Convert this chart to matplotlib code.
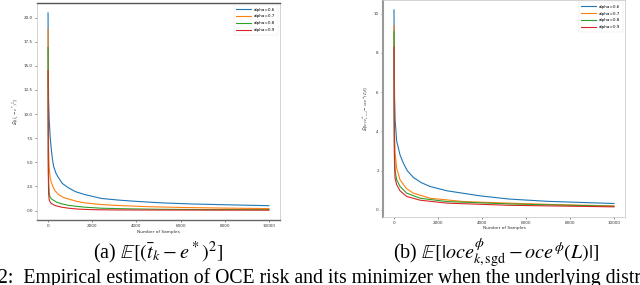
import numpy as np
import matplotlib.pyplot as plt

labels = ['alpha=0.6', 'alpha=0.7', 'alpha=0.8', 'alpha=0.9']
colors = ['#1f77b4', '#ff7f0e', '#2ca02c', '#d62728']

# (a) squared error of the minimizer estimate
a_x_06 = [0, 10, 25, 50, 100, 150, 200, 250, 350, 475, 650, 925, 1250, 1670, 2420, 3200, 3920, 5180, 6500, 8000, 10000]
a_y_06 = [20.5, 15.0, 11.5, 9.5, 7.5, 6.3, 5.3, 4.6, 3.9, 3.4, 2.8, 2.35, 1.95, 1.65, 1.25, 1.08, 0.96, 0.79, 0.68, 0.6, 0.5]
a_x_07 = [0, 10, 25, 50, 100, 180, 300, 475, 700, 925, 1300, 1670, 2400, 3170, 4500, 6000, 8000, 10000]
a_y_07 = [18.8, 10.0, 6.5, 4.5, 3.3, 2.7, 2.1, 1.65, 1.35, 1.2, 0.95, 0.79, 0.62, 0.52, 0.4, 0.32, 0.25, 0.2]
a_x_08 = [0, 10, 25, 50, 75, 150, 250, 400, 625, 900, 1220, 1700, 2420, 3500, 5000, 7000, 10000]
a_y_08 = [16.9, 6.0, 3.2, 1.9, 1.47, 1.2, 1.06, 0.85, 0.69, 0.55, 0.45, 0.34, 0.24, 0.18, 0.13, 0.1, 0.08]
a_x_09 = [0, 10, 25, 50, 75, 150, 320, 600, 925, 1400, 2000, 3000, 5000, 10000]
a_y_09 = [14.5, 4.0, 1.8, 1.15, 0.96, 0.72, 0.52, 0.35, 0.24, 0.14, 0.09, 0.06, 0.05, 0.04]

# (b) absolute error of the OCE risk estimate
b_x_06 = [0, 10, 25, 50, 122, 274, 425, 600, 880, 1250, 1640, 2400, 3920, 5210, 7000, 10000]
b_y_06 = [10.2, 7.5, 5.8, 4.6, 3.5, 2.8, 2.38, 2.0, 1.65, 1.38, 1.19, 0.97, 0.71, 0.55, 0.43, 0.32]
b_x_07 = [0, 10, 25, 50, 122, 274, 577, 880, 1640, 3160, 5210, 7500, 10000]
b_y_07 = [9.4, 5.5, 3.8, 2.9, 2.12, 1.53, 1.07, 0.85, 0.59, 0.42, 0.34, 0.26, 0.2]
b_x_08 = [0, 10, 25, 50, 122, 274, 577, 1185, 2400, 5210, 10000]
b_y_08 = [9.1, 4.5, 2.8, 2.0, 1.53, 1.19, 0.85, 0.59, 0.42, 0.3, 0.18]
b_x_09 = [0, 10, 25, 50, 122, 274, 577, 1185, 2400, 5210, 10000]
b_y_09 = [8.3, 3.5, 2.2, 1.6, 1.28, 0.97, 0.68, 0.49, 0.34, 0.23, 0.15]

a_series = [(a_x_06, a_y_06), (a_x_07, a_y_07), (a_x_08, a_y_08), (a_x_09, a_y_09)]
b_series = [(b_x_06, b_y_06), (b_x_07, b_y_07), (b_x_08, b_y_08), (b_x_09, b_y_09)]

plt.rcParams.update({
    'font.family': 'DejaVu Sans',
    'mathtext.fontset': 'stix',
})

fig = plt.figure(figsize=(6.4, 2.85), dpi=100)
ax_a = fig.add_axes([37 / 640, 1 - 220 / 285, 243 / 640, 217 / 285])
ax_b = fig.add_axes([383 / 640, 1 - 216.7 / 285, 242 / 640, 216.7 / 285])


def style_axes(ax, series, ylabel, yticks):
    for (xs, ys), lab, col in zip(series, labels, colors):
        ax.plot(xs, ys, color=col, lw=0.8, label=lab)
    ax.set_xticks([0, 2000, 4000, 6000, 8000, 10000])
    ax.set_yticks(yticks)
    ax.tick_params(labelsize=3, length=1.5, width=0.4, pad=1.5, colors='#333333')
    ax.set_xlabel('Number of Samples', fontsize=3.2, labelpad=1, color='#333333')
    ax.set_ylabel(ylabel, fontsize=3.5, labelpad=2, color='#333333')
    for s in ax.spines.values():
        s.set_color('#cccccc')
        s.set_linewidth(0.6)
    leg = ax.legend(loc='upper right', fontsize=3, handlelength=3.5,
                    frameon=True, borderpad=0.6, labelspacing=0.7)
    leg.get_frame().set_linewidth(0.3)
    leg.get_frame().set_edgecolor('#dddddd')


style_axes(ax_a, a_series, r'$\mathbb{E}[(\bar{t}_k - e^*)^2]$',
           [0, 2.5, 5, 7.5, 10, 12.5, 15, 17.5, 20])
ax_a.set_yticklabels(['0.0', '2.5', '5.0', '7.5', '10.0', '12.5', '15.0', '17.5', '20.0'])
ax_a.spines['top'].set_color('#555555')
ax_a.spines['top'].set_linewidth(1.0)
ax_a.spines['bottom'].set_color('#666666')
ax_a.spines['bottom'].set_linewidth(1.0)

style_axes(ax_b, b_series, r'$\mathbb{E}[|oce^{\phi}_{k,sgd} - oce^{\phi}(L)|]$',
           [0, 2, 4, 6, 8, 10])
ax_b.spines['left'].set_color('#999999')
ax_b.spines['left'].set_linewidth(1.5)

# ——— captions ———
cap_kw = dict(fontsize=14.5, ha='center', va='center', family='Liberation Serif')
fig.text(158 / 640, 1 - 253 / 285, r'(a) $\mathbb{E}[(\bar{t}_k - e^*)^2]$', **cap_kw)
fig.text(496 / 640, 1 - 253 / 285,
         r'(b) $\mathbb{E}[|oce^{\phi}_{k,\mathrm{sgd}} - oce^{\phi}(L)|]$', **cap_kw)
fig.text(-2 / 640, 1 - 283.5 / 285,
         '2:  Empirical estimation of OCE risk and its minimizer when the underlying distribution',
         fontsize=14.2, ha='left', va='baseline', family='Liberation Serif')

fig.savefig('out.png', dpi=100, facecolor='white')
